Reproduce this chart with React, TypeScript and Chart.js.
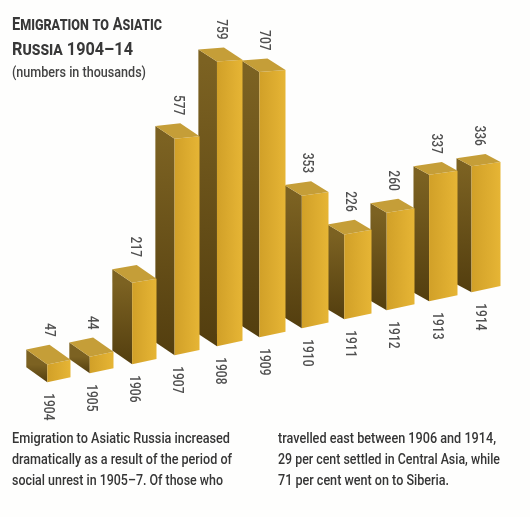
import React, { useEffect, useLayoutEffect, useRef } from "react";
import { Chart, registerables } from "chart.js";

Chart.register(...registerables);

// ---- data ----
const years = ["1904", "1905", "1906", "1907", "1908", "1909", "1910", "1911", "1912", "1913", "1914"];
const emigrants = [47, 44, 217, 577, 759, 707, 353, 226, 260, 337, 336];
const yMax = 1000;

const titleLines = ["Emigration to Asiatic", "Russia 1904–14"];
const subtitle = "(numbers in thousands)";
const captionLeft = [
  "Emigration to Asiatic Russia increased",
  "dramatically as a result of the period of",
  "social unrest in 1905–7. Of those who",
];
const captionRight = [
  "travelled east between 1906 and 1914,",
  "29 per cent settled in Central Asia, while",
  "71 per cent went on to Siberia.",
];

// ---- layout / style ----
const titleWidths = [150, 121];
const subtitleWidth = 134;
const leftWidths = [218, 220, 211];
const rightWidths = [218, 222, 171];

const FONT = "Roboto, 'Liberation Sans', Arial, sans-serif";
const SLOPE = -0.212; // rise of the base line per px (perspective look)
const TOP_FLAT = 0.0005; // top edges flatten as bars get taller
const DEPTH_LEFT = [-21, -15];
const DEPTH_RIGHT = [-15, -8];
const FRONT_SCALE = [0.8, 1.0];
const YEAR_SHIFT = [0, 8];

const lerp = (a: number, b: number, t: number) => a + (b - a) * t;

const box3d = {
  id: "box3d",
  beforeDatasetsDraw(chart: any) {
    const ctx: CanvasRenderingContext2D = chart.ctx;
    const meta = chart.getDatasetMeta(0);
    const area = chart.chartArea;
    const n = meta.data.length;
    const geo = meta.data.map((bar: any, i: number) => {
      const { x, y, base, width } = bar.getProps(["x", "y", "base", "width"], true);
      const t = n > 1 ? i / (n - 1) : 0;
      const h = base - y;
      const fw = width * lerp(FRONT_SCALE[0], FRONT_SCALE[1], t);
      const xb = x + width / 2;
      const xa = xb - fw;
      const yA = base + SLOPE * (xa - area.left);
      const yB = yA + SLOPE * fw;
      const st = SLOPE + TOP_FLAT * h;
      const tA = yA - h;
      const tB = tA + st * fw;
      const dx = lerp(DEPTH_LEFT[0], DEPTH_RIGHT[0], t);
      const dy = lerp(DEPTH_LEFT[1], DEPTH_RIGHT[1], t);
      return { xa, xb, yA, yB, tA, tB, dx, dy, t };
    });

    const poly = (pts: number[][], fill: any) => {
      ctx.beginPath();
      ctx.moveTo(pts[0][0], pts[0][1]);
      for (let k = 1; k < pts.length; k++) ctx.lineTo(pts[k][0], pts[k][1]);
      ctx.closePath();
      ctx.fillStyle = fill;
      ctx.fill();
    };

    ctx.save();
    for (let i = n - 1; i >= 0; i--) {
      const g = geo[i];
      // side (dark) face
      const sg = ctx.createLinearGradient(0, g.tA, 0, g.yA);
      sg.addColorStop(0, "#7c6222");
      sg.addColorStop(1, "#533e0f");
      poly(
        [
          [g.xa, g.yA],
          [g.xa, g.tA],
          [g.xa + g.dx, g.tA + g.dy],
          [g.xa + g.dx, g.yA + g.dy],
        ],
        sg
      );
      // front face
      const fg = ctx.createLinearGradient(g.xa, 0, g.xb, 0);
      fg.addColorStop(0, "#d1a028");
      fg.addColorStop(1, "#e6b535");
      poly(
        [
          [g.xa, g.yA],
          [g.xb, g.yB],
          [g.xb, g.tB],
          [g.xa, g.tA],
        ],
        fg
      );
      // top face
      poly(
        [
          [g.xa, g.tA],
          [g.xb, g.tB],
          [g.xb + g.dx, g.tB + g.dy],
          [g.xa + g.dx, g.tA + g.dy],
        ],
        "#c59e38"
      );
    }

    ctx.fillStyle = "#505050";
    ctx.font = `500 15px ${FONT}`;
    ctx.textBaseline = "middle";
    for (let i = 0; i < n; i++) {
      const g = geo[i];
      // value label above the top face, reading downward
      const cx = (g.xa + g.dx + g.xb) / 2;
      const topY = Math.min(g.tA + g.dy, g.tB + g.dy, g.tB) - 8;
      ctx.save();
      ctx.translate(cx, topY);
      ctx.rotate(Math.PI / 2);
      ctx.scale(0.8, 1);
      ctx.textAlign = "right";
      ctx.fillText(String(emigrants[i]), 0, 0);
      ctx.restore();
      // year label below the base
      ctx.save();
      ctx.translate(g.xa + lerp(YEAR_SHIFT[0], YEAR_SHIFT[1], g.t), g.yA + 11);
      ctx.rotate(Math.PI / 2);
      ctx.scale(0.8, 1);
      ctx.textAlign = "left";
      ctx.fillText(years[i], 0, 0);
      ctx.restore();
    }
    ctx.restore();
    return false;
  },
};

function FitLine({ text, width, lineHeight }: { text: string; width: number; lineHeight: number }) {
  const ref = useRef<HTMLSpanElement | null>(null);
  useLayoutEffect(() => {
    const el = ref.current;
    if (!el) return;
    el.style.transform = "none";
    const w = el.getBoundingClientRect().width;
    if (w > 0) el.style.transform = `scaleX(${width / w})`;
  }, [text, width]);
  return (
    <div style={{ height: lineHeight, lineHeight: `${lineHeight}px`, whiteSpace: "nowrap" }}>
      <span ref={ref} style={{ display: "inline-block", transformOrigin: "0 0" }}>
        {text}
      </span>
    </div>
  );
}

export default function App() {
  const ref = useRef<HTMLCanvasElement | null>(null);
  useEffect(() => {
    if (!ref.current) return;
    const chart = new Chart(ref.current, {
      type: "bar",
      data: {
        labels: years,
        datasets: [{ data: emigrants, backgroundColor: "#e0b034", barThickness: 29 }],
      },
      options: {
        responsive: false,
        animation: false,
        events: [],
        layout: { padding: { left: 34.5, right: 22.5, top: 9.9, bottom: 132.1 } },
        plugins: { legend: { display: false }, tooltip: { enabled: false } },
        scales: {
          x: { display: false, offset: true },
          y: { display: false, min: 0, max: yMax },
        },
      },
      plugins: [box3d],
    } as any);
    return () => chart.destroy();
  }, []);

  const textBase: React.CSSProperties = {
    position: "absolute",
    fontFamily: FONT,
  };

  return (
    <div
      style={{
        position: "fixed",
        left: 0,
        top: 0,
        width: 530,
        height: 517,
        overflow: "hidden",
        background: "#fefefd",
      }}
    >
      <canvas ref={ref} width={530} height={517} style={{ position: "absolute", left: 0, top: 0 }} />
      <div
        style={{
          ...textBase,
          left: 12,
          top: 11,
          fontSize: 19,
          fontWeight: 700,
          fontVariant: "small-caps",
          color: "#383838",
        }}
      >
        {titleLines.map((l, i) => (
          <FitLine key={i} text={l} width={titleWidths[i]} lineHeight={25} />
        ))}
      </div>
      <div style={{ ...textBase, left: 12, top: 63, fontSize: 15, fontWeight: 500, color: "#444" }}>
        <FitLine text={subtitle} width={subtitleWidth} lineHeight={18} />
      </div>
      <div style={{ ...textBase, left: 12, top: 428, fontSize: 15, fontWeight: 500, color: "#363636" }}>
        {captionLeft.map((l, i) => (
          <FitLine key={i} text={l} width={leftWidths[i]} lineHeight={21.2} />
        ))}
      </div>
      <div style={{ ...textBase, left: 278, top: 428, fontSize: 15, fontWeight: 500, color: "#363636" }}>
        {captionRight.map((l, i) => (
          <FitLine key={i} text={l} width={rightWidths[i]} lineHeight={21.2} />
        ))}
      </div>
    </div>
  );
}
